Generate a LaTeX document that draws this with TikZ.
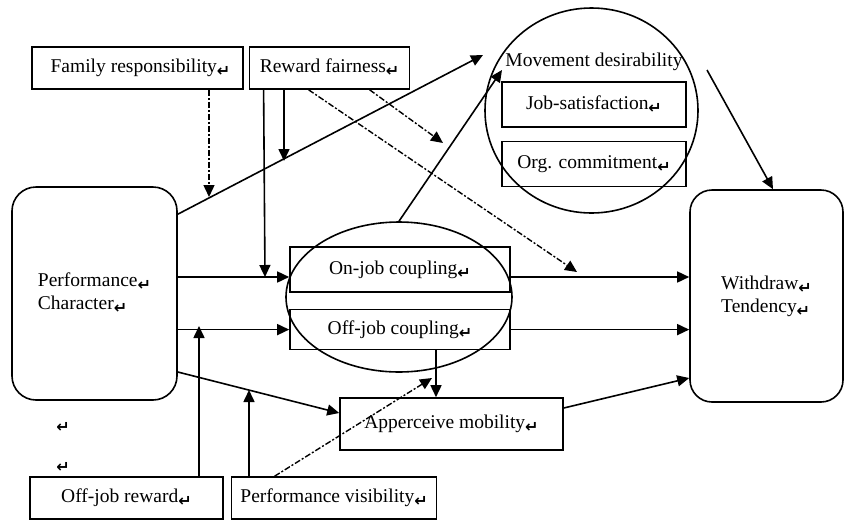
\documentclass[tikz,border=0pt]{standalone}
\usepackage{fontspec}
\setmainfont{Liberation Serif}
\newfontfamily\symfont{DejaVu Sans}
\usepackage{tikz}
\usetikzlibrary{arrows.meta}
\usetikzlibrary{positioning}
\usetikzlibrary{shapes.geometric}

\newcommand{\pmark}{{\symfont\bfseries\fontsize{16}{16}\selectfont\raisebox{-4pt}{↵}}}

\begin{document}
\begin{tikzpicture}[->, >={Triangle[length=12pt,width=11pt]}, x=1pt, y=-1pt, line width=1.6pt, font=\fontsize{19.5}{23}\selectfont]
    \tikzstyle{box}=[rectangle, draw, inner sep=0pt]
    \tikzstyle{rbox}=[rectangle, draw, rounded corners=24pt, inner sep=0pt, align=left]
    \tikzstyle{oval}=[ellipse, draw, inner sep=0pt]
    \tikzstyle{dotdash}=[dash pattern=on 6pt off 2pt on 2pt off 2pt, line width=1.4pt]

    \useasboundingbox (0,0) rectangle (844,520);

    \node[box, minimum width=211pt, minimum height=42pt] (fam) at (137.5,68) {\hspace{6pt}Family responsibility\pmark};
    \node[box, minimum width=160pt, minimum height=42pt, right=5pt of fam] (rew) {Reward fairness\pmark};

    \node[rbox, minimum width=165pt, minimum height=213pt] (pc) at (94.5,293.5) {Performance\pmark\\Character\pmark};
    \node[rbox, rounded corners=22pt, minimum width=153pt, minimum height=212pt] (wd) at (766.5,296) {Withdraw\pmark\\Tendency\pmark};

    \node[oval, minimum width=213pt, minimum height=205pt] (md) at (591.5,110.5) {};
    \node (mdt) at (594,62) {Movement desirability};
    \node[box, minimum width=184pt, minimum height=45pt] (job) at (594,104.5) {Job-satisfaction\pmark};
    \node[box, minimum width=184pt, minimum height=45pt, below=13pt of job] (org) {Org. commitment\pmark};

    \node[box, minimum width=220pt, minimum height=45pt] (on) at (400,269.5) {On-job coupling\pmark};
    \node[box, minimum width=220pt, minimum height=40pt, below=16pt of on] (off) {Off-job coupling\pmark};
    \node[oval, minimum width=226pt, minimum height=150pt] (cp) at (399,297) {};

    \node[box, minimum width=223pt, minimum height=52pt] (ap) at (451.5,424) {Apperceive mobility\pmark};

    \node[box, minimum width=193pt, minimum height=42pt] (ojr) at (126.5,498) {Off-job reward\pmark};
    \node[box, minimum width=205pt, minimum height=42pt, right=7pt of ojr] (pv) {Performance visibility\pmark};

    \node (ret1) at (63,427) {\pmark};
    \node (ret2) at (63,467) {\pmark};

    \coordinate (famtip) at (209,197);
    \coordinate (rewtip) at (284,161);
    \coordinate (rewon) at (265,277);
    \coordinate (rewwd) at (577,272);
    \coordinate (rewmd) at (443,143);
    \coordinate (mdin) at (483,55);
    \coordinate (mdjob) at (502,70);
    \coordinate (mdout) at (707,70);
    \coordinate (onL) at ([yshift=-7.5pt]on.west);
    \coordinate (onR) at ([yshift=-7.5pt]on.east);
    \coordinate (ojrtip) at (199,326);
    \coordinate (pvtip) at (249,390);
    \coordinate (pvap) at (432,378);

    \draw[dotdash] (fam.south -| famtip) -- (famtip);
    \draw (rew.south -| rewtip) -- (rewtip);
    \draw ([xshift=-66pt]rew.south) -- (rewon);
    \draw[dotdash] ([xshift=-21pt]rew.south) -- (rewwd);
    \draw[dotdash] ([xshift=40pt]rew.south) -- (rewmd);

    \draw ([yshift=-28pt]pc.north east) -- (mdin);
    \draw (cp.north) -- (mdjob);
    \draw (mdout) -- ([xshift=6.5pt]wd.north);

    \draw (pc.east |- onL) -- (onL);
    \draw (pc.east |- off.west) -- (off.west);
    \draw (onR) -- (onR -| wd.west);
    \draw (off.east) -- (off.east -| wd.west);

    \draw ([xshift=36pt]off.south) -- ([xshift=36pt]off.south |- ap.north);
    \draw ([yshift=-78.5pt]pc.east) -- ([yshift=11pt]ap.west);
    \draw ([yshift=16pt]ap.east) -- ([yshift=-82pt]wd.west);

    \draw (ojr.north -| ojrtip) -- (ojrtip);
    \draw (pv.north -| pvtip) -- (pvtip);
    \draw[dotdash] ([xshift=-59.5pt]pv.north) -- (pvap);
\end{tikzpicture}
\end{document}
